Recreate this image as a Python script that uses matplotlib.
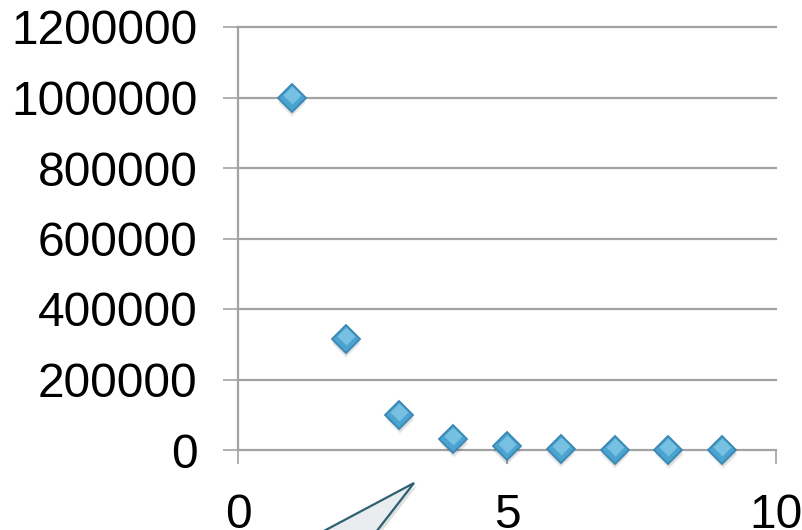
import matplotlib.pyplot as plt
from matplotlib.patches import Polygon
from matplotlib.transforms import ScaledTranslation
import numpy as np

plt.rcParams['font.family'] = ['Liberation Sans', 'DejaVu Sans']

x_vals = [1, 2, 3, 4, 5, 6, 7, 8, 9]
y_vals = [1000000, 316000, 100000, 31600, 10000, 3160, 1000, 316, 100]
y_ticks = [0, 200000, 400000, 600000, 800000, 1000000, 1200000]
x_ticks = [0, 5, 10]

W, H = 802, 530
fig = plt.figure(figsize=(W / 100, H / 100), dpi=100)
ax = fig.add_axes([238 / W, 80 / H, (776 - 238) / W, (450 - 27) / H])

grid_col = '#a3a3a3'
ax.set_xlim(0, 10)
ax.set_ylim(0, 1200000)
ax.set_yticks(y_ticks)
ax.set_yticklabels([str(v) for v in y_ticks])
ax.set_xticks(x_ticks)
ax.set_xticklabels([str(v) for v in x_ticks])
for yv in y_ticks:
    ax.axhline(yv, color=grid_col, lw=1.6, zorder=1, clip_on=False)
for s in ['top', 'right', 'bottom']:
    ax.spines[s].set_visible(False)
ax.spines['left'].set_color(grid_col)
ax.spines['left'].set_linewidth(1.6)
ax.tick_params(axis='y', length=11, width=1.2, color=grid_col, pad=18, labelsize=34.5)
ax.tick_params(axis='x', length=10, width=1.2, color=grid_col, pad=21, labelsize=34.5)

def shifted(dx, dy):
    return ax.transData + ScaledTranslation(dx / 100, dy / 100, fig.dpi_scale_trans)

# soft shadow under each diamond
for k, a in [(5, 0.06), (3.5, 0.09)]:
    ax.plot(x_vals, y_vals, 'D', ms=14.5, color='#000000', alpha=a,
            markeredgewidth=0, zorder=2, transform=shifted(0.5, -k), clip_on=False)
# diamond markers with a lighter upper part
ax.plot(x_vals, y_vals, 'D', ms=14.5, mfc='#4aa3d0', mec='#3987b2', mew=1.3,
        zorder=3, clip_on=False)
ax.plot(x_vals, y_vals, 'D', ms=9.5, mfc='#86cbe9', mec='none', alpha=0.75,
        zorder=4, clip_on=False, transform=shifted(0, 2.5))

# callout pointer at the bottom
pts = np.array([[414, 483], [322, 532], [376, 532]], dtype=float)
shadow = Polygon(np.column_stack([(pts[:, 0] + 3) / W, 1 - (pts[:, 1] + 3) / H]),
                 closed=True, transform=fig.transFigure, fc='#000000', alpha=0.12,
                 ec='none', clip_on=False)
callout = Polygon(np.column_stack([pts[:, 0] / W, 1 - pts[:, 1] / H]),
                  closed=True, transform=fig.transFigure, fc='#e9edf0',
                  ec='#2e6072', lw=1.6, joinstyle='miter', clip_on=False)
fig.patches.append(shadow)
fig.patches.append(callout)

fig.savefig('out.png', dpi=100)
